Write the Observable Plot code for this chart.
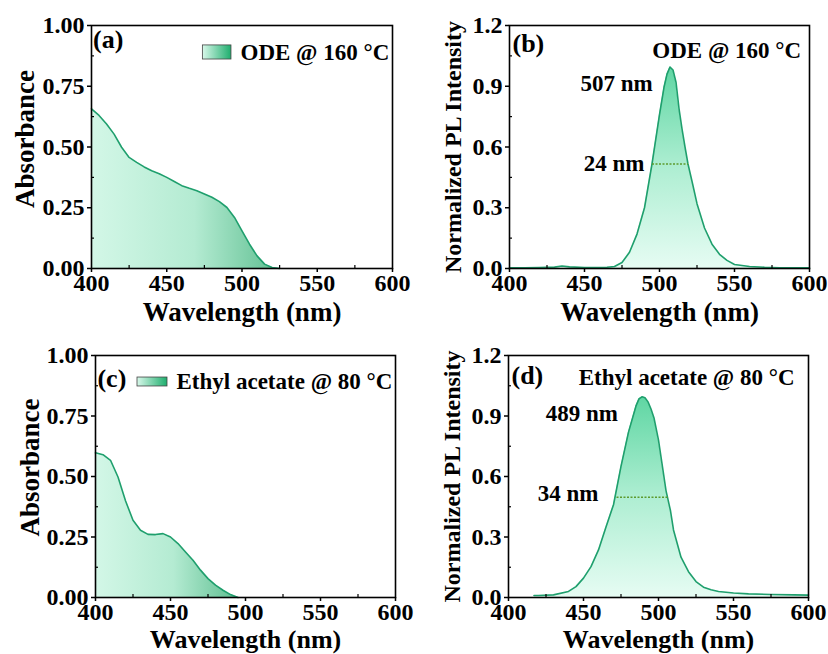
<!DOCTYPE html>
<html><head><meta charset="utf-8">
<script src="https://cdn.jsdelivr.net/npm/d3@7"></script>
<script src="https://cdn.jsdelivr.net/npm/@observablehq/plot@0.6"></script>
<style>
body{margin:0;background:#fff;}
#root{position:relative;width:828px;height:654px;overflow:hidden;}
#root svg{position:absolute;overflow:visible;}
</style></head><body><div id="root"></div>
<script>
// ---- data ----
const xTicks = [400, 450, 500, 550, 600];
const xMinor = [425, 475, 525, 575];
const absTicks = [0, 0.25, 0.5, 0.75, 1.0];
const absMinor = [0.125, 0.375, 0.625, 0.875];
const plTicks = [0, 0.3, 0.6, 0.9, 1.2];
const plMinor = [0.15, 0.45, 0.75, 1.05];

// (a) absorbance, ODE @ 160 °C
const absA_wl = [400,405,410,415,420,425,430,435,440,445,450,455,460,465,470,475,480,485,490,495,500,505,510,515,520,525];
const absA_v  = [0.657,0.630,0.595,0.553,0.499,0.457,0.437,0.418,0.402,0.390,0.375,0.358,0.341,0.330,0.320,0.307,0.293,0.275,0.251,0.210,0.155,0.100,0.052,0.018,0.004,0.0];
// (b) PL, ODE @ 160 °C
const plB_wl = [400,410,420,430,435,440,450,460,465,470,475,480,485,490,495,500,503,505,507,509,511,513,515,517,519,522,525,530,535,540,545,550,560,570,580,590,600];
const plB_v  = [0.004,0.004,0.005,0.007,0.012,0.008,0.005,0.005,0.006,0.010,0.030,0.080,0.170,0.300,0.516,0.760,0.895,0.960,0.995,0.980,0.920,0.790,0.690,0.600,0.516,0.420,0.320,0.200,0.120,0.070,0.040,0.020,0.010,0.006,0.004,0.004,0.003];
// (c) absorbance, Ethyl acetate @ 80 °C
const absC_wl = [400,405,410,415,420,425,430,435,440,445,450,455,460,465,470,475,480,485,490,495];
const absC_v  = [0.598,0.590,0.567,0.498,0.400,0.319,0.278,0.261,0.260,0.264,0.250,0.223,0.188,0.154,0.113,0.078,0.051,0.030,0.012,0.0];
// (d) PL, Ethyl acetate @ 80 °C
const plD_wl = [417,420,430,440,445,450,455,460,465,470,475,480,485,487,489,491,493,495,497,500,503,505,508,510,515,520,525,530,535,540,550,560,575,590,600];
const plD_v  = [0.010,0.010,0.013,0.030,0.054,0.096,0.153,0.236,0.350,0.460,0.650,0.820,0.950,0.985,0.995,0.990,0.970,0.935,0.890,0.780,0.630,0.530,0.430,0.335,0.200,0.128,0.079,0.051,0.038,0.030,0.022,0.018,0.015,0.013,0.012];

const peakLabels = ["507 nm", "489 nm"];
const fwhmLabels = ["24 nm", "34 nm"];
const fwhmB = [{x1: 495, x2: 519, y: 0.516}];
const fwhmD = [{x1: 472, x2: 506, y: 0.497}];
const legendA = "ODE @ 160 °C";
const legendC = "Ethyl acetate @ 80 °C";

const toRows = (wl, v) => wl.map((w, i) => ({wl: w, v: v[i]}));

const FONT = "'Liberation Serif', 'Times New Roman', serif";
const LINE = "#1f9f6d";

function panel(cfg) {
  const marks = [
    Plot.areaY(cfg.data, {x: "wl", y: "v", fill: `url(#${cfg.grad})`}),
    Plot.lineY(cfg.data, {x: "wl", y: "v", stroke: LINE, strokeWidth: 1.6}),
    ...(cfg.fwhm ? [Plot.link(cfg.fwhm, {x1: "x1", x2: "x2", y1: "y", y2: "y", stroke: "#5d9a2e", strokeWidth: 1.3, strokeDasharray: "2,1.5"})] : []),
    ...(cfg.swatch ? [Plot.rect(cfg.swatch, {x1: "x1", x2: "x2", y1: "y1", y2: "y2", fill: "url(#gLeg)", stroke: "#444", strokeWidth: 0.8})] : []),
    ...cfg.texts.map(t => Plot.text([t.text], {x: () => t.x, y: () => t.y, text: d => d, textAnchor: t.anchor, fontSize: t.size || 23, fontWeight: "bold", fill: "#000"})),
    Plot.axisX({ticks: xTicks, tickSize: 4, tickPadding: 1, tickFormat: d => d, fontSize: 24, label: null, strokeWidth: 1.5}),
    Plot.axisX({ticks: xMinor, tickSize: -3, tickFormat: () => "", label: null, strokeWidth: 1.2}),
    Plot.axisY({ticks: cfg.yTicks, tickSize: 4, tickPadding: 3, tickFormat: d3.format(cfg.yfmt), fontSize: 24, label: null, strokeWidth: 1.5}),
    Plot.axisY({ticks: cfg.yMinor, tickSize: -3, tickFormat: () => "", label: null, strokeWidth: 1.2}),
    Plot.text(["Wavelength (nm)"], {frameAnchor: "bottom", lineAnchor: "middle", textAnchor: "middle", dy: cfg.xlabDy, text: d => d, fontSize: cfg.xlabSize || 27, fontWeight: "bold", fill: "#000"}),
    Plot.text([cfg.ylabel], {frameAnchor: "left", lineAnchor: "middle", textAnchor: "middle", dx: cfg.ylabDx, dy: cfg.ylabDy || 0, rotate: -90, text: d => d, fontSize: cfg.ylabSize, fontWeight: "bold", fill: "#000"}),
    Plot.frame({stroke: "#000", strokeWidth: 1.6})
  ];
  const svg = Plot.plot({
    width: 414, height: 327,
    marginLeft: cfg.m[0], marginRight: cfg.m[1], marginTop: cfg.m[2], marginBottom: cfg.m[3],
    x: {domain: [400, 600]},
    y: {domain: cfg.ydom},
    style: {fontFamily: FONT, fontWeight: "bold", fontSize: "22px", color: "#000", background: "transparent", overflow: "visible", maxWidth: "none"},
    marks
  });
  const defs = document.createElementNS("http://www.w3.org/2000/svg", "defs");
  defs.innerHTML = cfg.defs;
  svg.insertBefore(defs, svg.firstChild);
  svg.style.left = cfg.pos[0] + "px";
  svg.style.top = cfg.pos[1] + "px";
  document.getElementById("root").appendChild(svg);
}

const hGrad = (id) => `<linearGradient id="${id}" x1="0" y1="0" x2="1" y2="0"><stop offset="0" stop-color="#d3f7e7"/><stop offset="0.55" stop-color="#b4ebd2"/><stop offset="1" stop-color="#5fbf91"/></linearGradient>`;
const vGrad = (id) => `<linearGradient id="${id}" x1="0" y1="0" x2="0" y2="1"><stop offset="0" stop-color="#5fd6a3"/><stop offset="0.5" stop-color="#aeeed2"/><stop offset="1" stop-color="#e6fcf3"/></linearGradient>`;
const legGrad = `<linearGradient id="gLeg" x1="0" y1="0" x2="1" y2="0"><stop offset="0" stop-color="#d8f8ea"/><stop offset="1" stop-color="#1fae6e"/></linearGradient>`;

panel({
  pos: [0, 0], m: [91, 22, 25, 59], ydom: [0, 1], yTicks: absTicks, yMinor: absMinor, yfmt: ".2f",
  data: toRows(absA_wl, absA_v), grad: "gA", defs: hGrad("gA") + legGrad,
  swatch: [{x1: 474, x2: 493, y1: 0.86, y2: 0.918}],
  texts: [{text: "(a)", x: 401, y: 0.942, anchor: "start", size: 26}, {text: legendA, x: 499, y: 0.889, anchor: "start"}],
  ylabel: "Absorbance", ylabSize: 27, ylabDx: -66, ylabDy: -8, xlabDy: 44
});
panel({
  pos: [414, 0], m: [95, 19, 25, 59], ydom: [0, 1.2], yTicks: plTicks, yMinor: plMinor, yfmt: ".1f",
  data: toRows(plB_wl, plB_v), grad: "gB", defs: vGrad("gB"),
  fwhm: fwhmB,
  texts: [{text: "(b)", x: 402, y: 1.111, anchor: "start", size: 26}, {text: legendA, x: 594.4, y: 1.077, anchor: "end"},
          {text: peakLabels[0], x: 495.5, y: 0.912, anchor: "end"}, {text: fwhmLabels[0], x: 490, y: 0.517, anchor: "end"}],
  ylabel: "Normalized PL Intensity", ylabSize: 24, ylabDx: -56, xlabDy: 44
});
panel({
  pos: [0, 327], m: [95, 19, 28, 57], ydom: [0, 1], yTicks: absTicks, yMinor: absMinor, yfmt: ".2f",
  data: toRows(absC_wl, absC_v), grad: "gC", defs: hGrad("gC"),
  swatch: [{x1: 428, x2: 448, y1: 0.872, y2: 0.909}],
  texts: [{text: "(c)", x: 401.3, y: 0.905, anchor: "start", size: 26}, {text: legendC, x: 454, y: 0.893, anchor: "start"}],
  ylabel: "Absorbance", ylabSize: 27, ylabDx: -65, ylabDy: -9, xlabDy: 42, xlabSize: 26
});
panel({
  pos: [414, 327], m: [94, 20, 28, 57], ydom: [0, 1.2], yTicks: plTicks, yMinor: plMinor, yfmt: ".1f",
  data: toRows(plD_wl, plD_v), grad: "gD", defs: vGrad("gD"),
  fwhm: fwhmD,
  texts: [{text: "(d)", x: 402, y: 1.10, anchor: "start", size: 26}, {text: legendC, x: 590.7, y: 1.092, anchor: "end"},
          {text: peakLabels[1], x: 472.9, y: 0.911, anchor: "end"}, {text: fwhmLabels[1], x: 460, y: 0.514, anchor: "end"}],
  ylabel: "Normalized PL Intensity", ylabSize: 24, ylabDx: -56, xlabDy: 42, xlabSize: 26
});
</script></body></html>
